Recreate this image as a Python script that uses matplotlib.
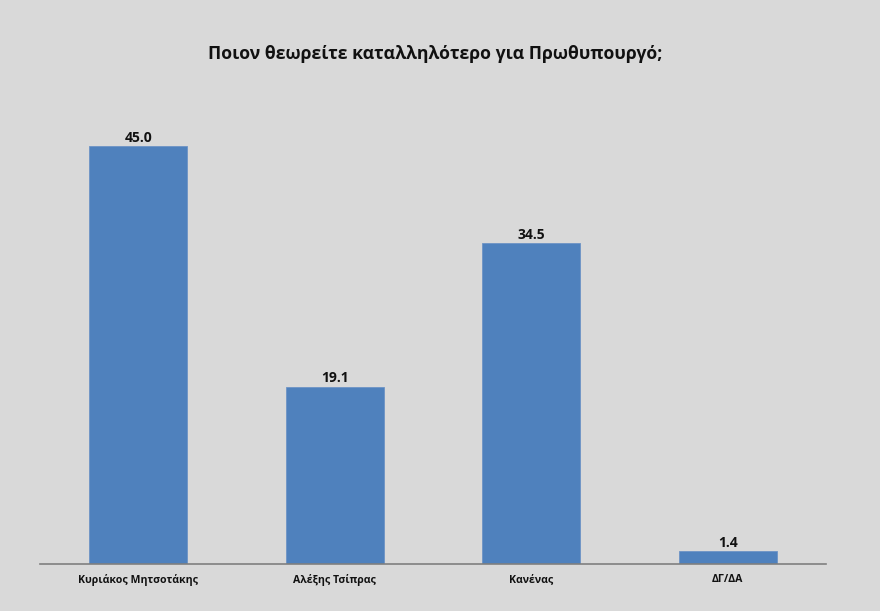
import matplotlib.pyplot as plt

categories = ['Κυριάκος Μητσοτάκης', 'Αλέξης Τσίπρας', 'Κανένας', 'ΔΓ/ΔΑ']
values = [45.0, 19.1, 34.5, 1.4]
title = 'Ποιον θεωρείτε καταλληλότερο για Πρωθυπουργό;'

bg = '#d9d9d9'
bar_color = '#4f81bd'

fig = plt.figure(figsize=(8.8, 6.11), dpi=100, facecolor=bg)
ax = fig.add_axes([0.0455, 0.0769, 0.8932, 0.7603])
ax.set_facecolor(bg)

x = range(len(categories))
bars = ax.bar(x, values, width=0.5, color=bar_color, edgecolor='#6d94c6', linewidth=0.6)

for xi, v in zip(x, values):
    ax.text(xi, v + 0.15, f'{v:.1f}', ha='center', va='bottom',
            fontsize=10, fontweight='bold', family='Open Sans', color='#111111')

ax.set_xlim(-0.5, 3.5)
ax.set_ylim(0, 50)
ax.set_yticks([])
ax.set_xticks(list(x))
ax.set_xticklabels(categories, fontsize=7.6, fontweight='bold', family='Open Sans', color='#111111')
ax.tick_params(axis='x', length=0, pad=7)
for s in ['top', 'right', 'left']:
    ax.spines[s].set_visible(False)
ax.spines['bottom'].set_color('#7f7f7f')
ax.spines['bottom'].set_linewidth(1.2)

fig.text(0.495, 0.912, title, ha='center', va='center', fontsize=12.7,
         fontweight='bold', family='Open Sans', color='#111111')

fig.savefig('out.png', dpi=100, facecolor=bg)
